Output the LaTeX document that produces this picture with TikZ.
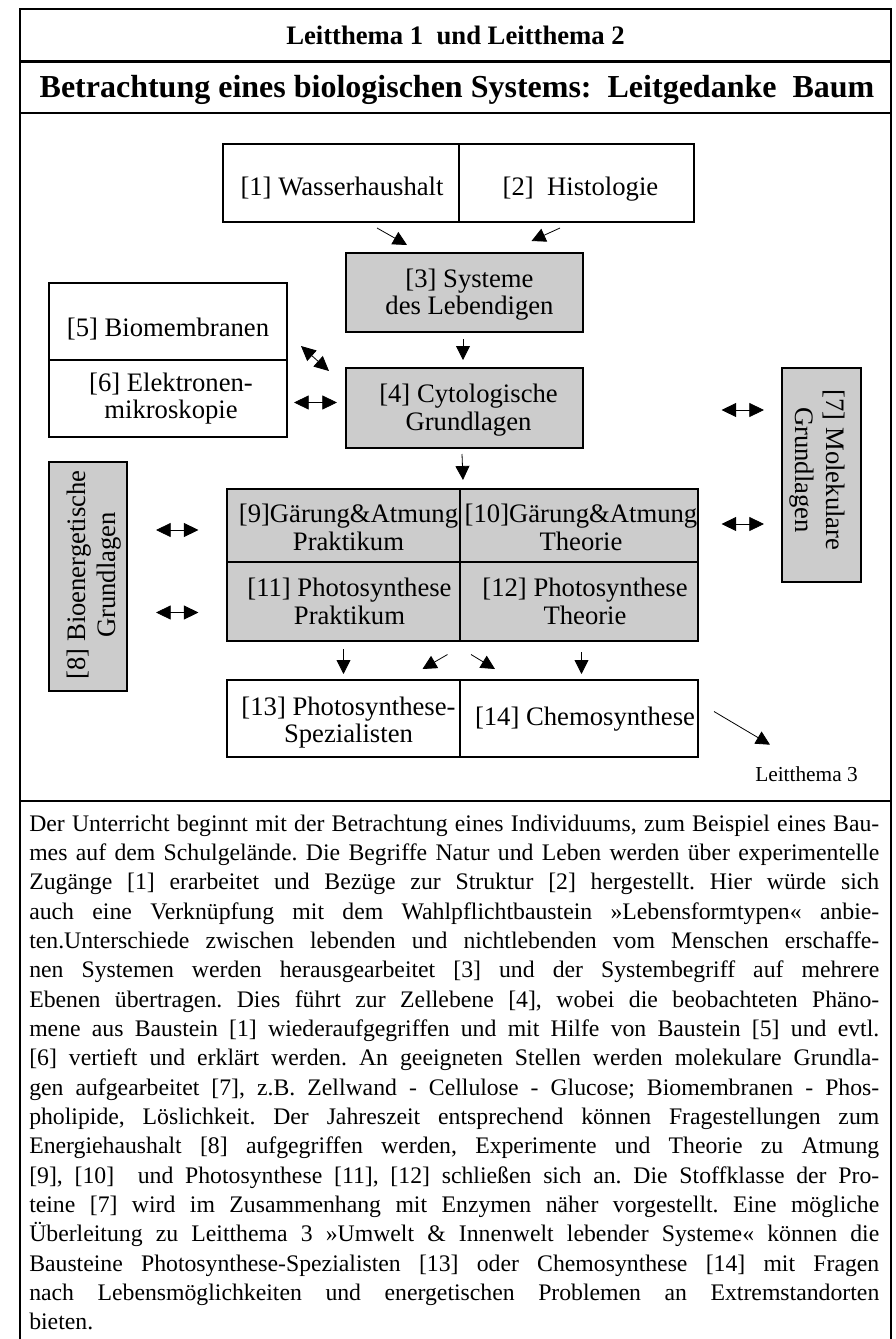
\documentclass[tikz,border=0pt]{standalone}
\usepackage{fontspec}
\setmainfont{Liberation Serif}
\usetikzlibrary{arrows.meta}
\definecolor{boxgray}{RGB}{204,204,204}
% one fully justified line of the description text
\newcommand\pline[1]{\makebox[637.5pt][s]{#1}}

\begin{document}
\frenchspacing
\begin{tikzpicture}[x=0.75pt,y=-0.75pt,
  frameline/.style={line width=2pt},
  cell/.style={draw, line width=1.5pt, inner sep=0pt},
  shaded/.style={cell, fill=boxgray},
  celltext/.style={align=center, inner sep=0pt, font=\fontsize{20}{20.5}\selectfont},
  sidetext/.style={align=center, inner sep=0pt, font=\fontsize{20}{23}\selectfont},
  arr/.style={line width=0.6pt, -{Triangle[length=10.5pt,width=10.5pt]}},
  darr/.style={line width=0.6pt, {Triangle[length=11pt,width=10.5pt]}-{Triangle[length=11pt,width=10.5pt]}},
]
\useasboundingbox (0,0) rectangle (896,1339);

% outer frame and section rules
\draw[frameline] (20,1345) -- (20,9) -- (891,9) -- (891,1345);
\draw[frameline] (20,61.5) -- (891,61.5);
\draw[frameline] (20,113) -- (891,113);
\draw[frameline] (20,801) -- (891,801);

% headings
\node[anchor=base, inner sep=0pt, font=\bfseries\fontsize{20}{24}\selectfont] (lt12) at (455.5,44) {Leitthema 1\ \ und Leitthema 2};
\node[anchor=base, inner sep=0pt, font=\bfseries\fontsize{24}{28}\selectfont] (head) at (457,97.5) {Betrachtung eines biologischen Systems:\ \ Leitgedanke\ \ Baum};

% building blocks
\node[cell, minimum width=177pt, minimum height=58.5pt] (wh) at (341,183) {};
\node[cell, minimum width=176.25pt, minimum height=58.5pt] (hi) at (576.5,183) {};
\node[shaded, minimum width=177.75pt, minimum height=59.25pt] (sys) at (464.5,292.5) {};
\node[shaded, minimum width=177.75pt, minimum height=60pt] (cyt) at (464.5,408) {};
\node[cell, minimum width=178.5pt, minimum height=57.75pt] (bm) at (168,321.5) {};
\node[cell, minimum width=178.5pt, minimum height=57.75pt] (em) at (168,398.5) {};
\node[shaded, minimum width=59.25pt, minimum height=160.5pt] (mol) at (821.5,475) {};
\node[shaded, minimum width=58.5pt, minimum height=171.75pt] (be) at (88,576.5) {};
\node[shaded, minimum width=174.75pt, minimum height=55.125pt] (gp) at (343.5,525.25) {};
\node[shaded, minimum width=178.5pt, minimum height=55.125pt] (gt) at (579,525.25) {};
\node[shaded, minimum width=174.75pt, minimum height=59.25pt] (pp) at (343.5,601.5) {};
\node[shaded, minimum width=178.5pt, minimum height=59.25pt] (pt) at (579,601.5) {};
\node[cell, minimum width=174.75pt, minimum height=57.75pt] (ps) at (343.5,718.5) {};
\node[cell, minimum width=178.5pt, minimum height=57.75pt] (ch) at (579,718.5) {};

% block titles
\node[celltext, anchor=base] (wht) at ([shift={(1,12)}]wh.center) {[1] Wasserhaushalt};
\node[celltext, anchor=base] (hit) at ([shift={(4,12)}]hi.center) {[2]\ \ Histologie};
\node[celltext] (syst) at ([shift={(5,2)}]sys.center) {[3] Systeme\\des Lebendigen};
\node[celltext] (cytt) at ([shift={(4,2)}]cyt.center) {[4] Cytologische\\Grundlagen};
\node[celltext] (bmt) at ([shift={(0,8)}]bm.center) {[5] Biomembranen};
\node[celltext] (emt) at ([shift={(3,0)}]em.center) {[6] Elektronen-\\mikroskopie};
\node[celltext] (gpt) at ([shift={(5,2)}]gp.center) {[9]Gärung\&Atmung\\Praktikum};
\node[celltext] (gtt) at ([shift={(2,2)}]gt.center) {[10]Gärung\&Atmung\\Theorie};
\node[celltext] (ppt) at ([shift={(6,0)}]pp.center) {[11] Photosynthese\\Praktikum};
\node[celltext] (ptt) at ([shift={(6,0)}]pt.center) {[12] Photosynthese\\Theorie};
\node[celltext] (pst) at ([shift={(5,4)}]ps.center) {[13] Photosynthese-\\Spezialisten};
\node[celltext] (cht) at ([shift={(6,1)}]ch.center) {[14] Chemosynthese};
\node[sidetext, rotate=-90] (molt) at (817.5,470) {[7] Molekulare\\Grundlagen};
\node[sidetext, rotate=90] (bet) at (94,575) {[8] Bioenergetische\\Grundlagen};
\node[anchor=base west, inner sep=0pt, font=\fontsize{16}{18}\selectfont] (lt3) at (755,781.7) {Leitthema 3};

% links between the blocks
\draw[arr] ([shift={(36,5)}]wh.south) -- ([shift={(-57.5,-7)}]sys.north);
\draw[arr] ([shift={(-16.5,5)}]hi.south) -- ([shift={(67,-11)}]sys.north);
\draw[arr] ([shift={(-1.5,6)}]sys.south) -- ([shift={(-1.5,-7)}]cyt.north);
\draw[darr] ([shift={(13,-15)}]bm.south east) -- ([shift={(-16,4)}]cyt.north west);
\draw[darr] ([shift={(6,4)}]em.east) -- ([shift={(-8,-5.5)}]cyt.west);
\draw[darr] ([shift={(137.5,2)}]cyt.east) -- ([shift={(-17,-65)}]mol.west);
\draw[darr] ([shift={(22.5,-1.25)}]gt.east) -- ([shift={(-17,49)}]mol.west);
\draw[darr] ([shift={(28,-46.5)}]be.east) -- ([shift={(-27.5,4.75)}]gp.west);
\draw[darr] ([shift={(28,36)}]be.east) -- ([shift={(-27.5,11)}]pp.west);
\draw[arr] ([shift={(-2.5,5)}]cyt.south) -- ([shift={(2,-7.5)}]gp.north east);
\draw[arr] ([shift={(0,7)}]pp.south) -- ([shift={(0,-5)}]ps.north);
\draw[arr] ([shift={(-11.5,12.5)}]pt.south west) -- ([shift={(79,-10)}]ps.north);
\draw[arr] ([shift={(10,12.5)}]pp.south east) -- ([shift={(-84,-10)}]ch.north);
\draw[arr] ([shift={(2.5,10)}]pt.south) -- ([shift={(2.5,-5)}]ch.north);
\draw[arr] ([shift={(15,-7)}]ch.east) -- ([shift={(15,-37)}]lt3.base west);

% description
\node[anchor=north west, inner sep=0pt, align=left, font=\fontsize{17.8}{22}\selectfont] (para) at (29,810.5) {%
\strut\pline{Der Unterricht beginnt mit der Betrachtung eines Individuums, zum Beispiel eines Bau-}\\
\pline{mes auf dem Schulgelände. Die Begriffe Natur und Leben werden über experimentelle}\\
\pline{Zugänge [1] erarbeitet und Bezüge zur Struktur [2] hergestellt. Hier würde sich}\\
\pline{auch eine Verknüpfung mit dem Wahlpflichtbaustein »Lebensformtypen« anbie-}\\
\pline{ten.Unterschiede zwischen lebenden und nichtlebenden vom Menschen erschaffe-}\\
\pline{nen Systemen werden herausgearbeitet [3] und der Systembegriff auf mehrere}\\
\pline{Ebenen übertragen. Dies führt zur Zellebene [4], wobei die beobachteten Phäno-}\\
\pline{mene aus Baustein [1] wiederaufgegriffen und mit Hilfe von Baustein [5] und evtl.}\\
\pline{[6] vertieft und erklärt werden. An geeigneten Stellen werden molekulare Grundla-}\\
\pline{gen aufgearbeitet [7], z.B. Zellwand - Cellulose - Glucose; Biomembranen - Phos-}\\
\pline{pholipide, Löslichkeit. Der Jahreszeit entsprechend können Fragestellungen zum}\\
\pline{Energiehaushalt [8] aufgegriffen werden, Experimente und Theorie zu Atmung}\\
\pline{[9], [10]\ \ und Photosynthese [11], [12] schließen sich an. Die Stoffklasse der Pro-}\\
\pline{teine [7] wird im Zusammenhang mit Enzymen näher vorgestellt. Eine mögliche}\\
\pline{Überleitung zu Leitthema 3 »Umwelt \& Innenwelt lebender Systeme« können die}\\
\pline{Bausteine Photosynthese-Spezialisten [13] oder Chemosynthese [14] mit Fragen}\\
\pline{nach Lebensmöglichkeiten und energetischen Problemen an Extremstandorten}\\
bieten.};
\end{tikzpicture}
\end{document}
